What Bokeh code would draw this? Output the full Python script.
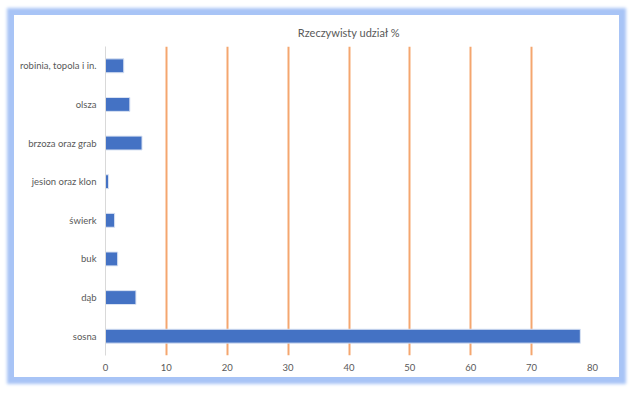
from bokeh.plotting import figure
from bokeh.models import FactorRange, FixedTicker, Range1d
from bokeh.embed import file_html
from bokeh.resources import INLINE

# Tree species and their actual share (%)
species = ["robinia, topola i in.", "olsza", "brzoza oraz grab", "jesion oraz klon",
           "świerk", "buk", "dąb", "sosna"]
share = [3, 4, 6, 0.5, 1.5, 2, 5, 78]
x_ticks = [0, 10, 20, 30, 40, 50, 60, 70, 80]
title_text = "Rzeczywisty udział %"

FONT = "Lato"
GREY = "#595959"

p = figure(
    width=605, height=362,
    y_range=FactorRange(factors=list(reversed(species))),
    x_range=Range1d(0, 80),
    output_backend="svg", toolbar_location=None,
    min_border_left=91, min_border_right=27, min_border_top=31, min_border_bottom=22,
)
p.styles = {
    "margin-left": "14px",
    "margin-top": "15px",
    "box-shadow": "0 0 3px 7px #a8c4f6",
}

p.title.text = title_text
p.title.align = "center"
p.title.text_font = FONT
p.title.text_font_size = "11px"
p.title.text_font_style = "normal"
p.title.text_color = GREY
p.title.standoff = 15

p.hbar(y=species, right=share, height=0.36, fill_color="#4472c4",
       line_color="#dae3f3", line_width=1)

p.outline_line_color = None
p.background_fill_color = "white"
p.border_fill_color = "white"

p.ygrid.grid_line_color = None
p.xgrid.ticker = FixedTicker(ticks=x_ticks[1:])
p.xgrid.grid_line_color = "#f4a66f"
p.xgrid.grid_line_width = 2

p.xaxis.ticker = FixedTicker(ticks=x_ticks)
p.xaxis.axis_line_color = None
p.xaxis.major_tick_line_color = None
p.xaxis.minor_tick_line_color = None
p.xaxis.major_tick_out = 0
p.xaxis.major_tick_in = 0
p.xaxis.major_label_text_font = FONT
p.xaxis.major_label_text_font_size = "9.5px"
p.xaxis.major_label_text_color = GREY
p.xaxis.major_label_standoff = 8

p.yaxis.axis_line_color = "#d9d9d9"
p.yaxis.axis_line_width = 1
p.yaxis.major_tick_line_color = None
p.yaxis.minor_tick_line_color = None
p.yaxis.major_tick_out = 0
p.yaxis.major_tick_in = 0
p.yaxis.major_label_text_font = FONT
p.yaxis.major_label_text_font_size = "9.5px"
p.yaxis.major_label_text_color = GREY
p.yaxis.major_label_standoff = 9

open("out.html", "w").write(file_html(p, INLINE))
